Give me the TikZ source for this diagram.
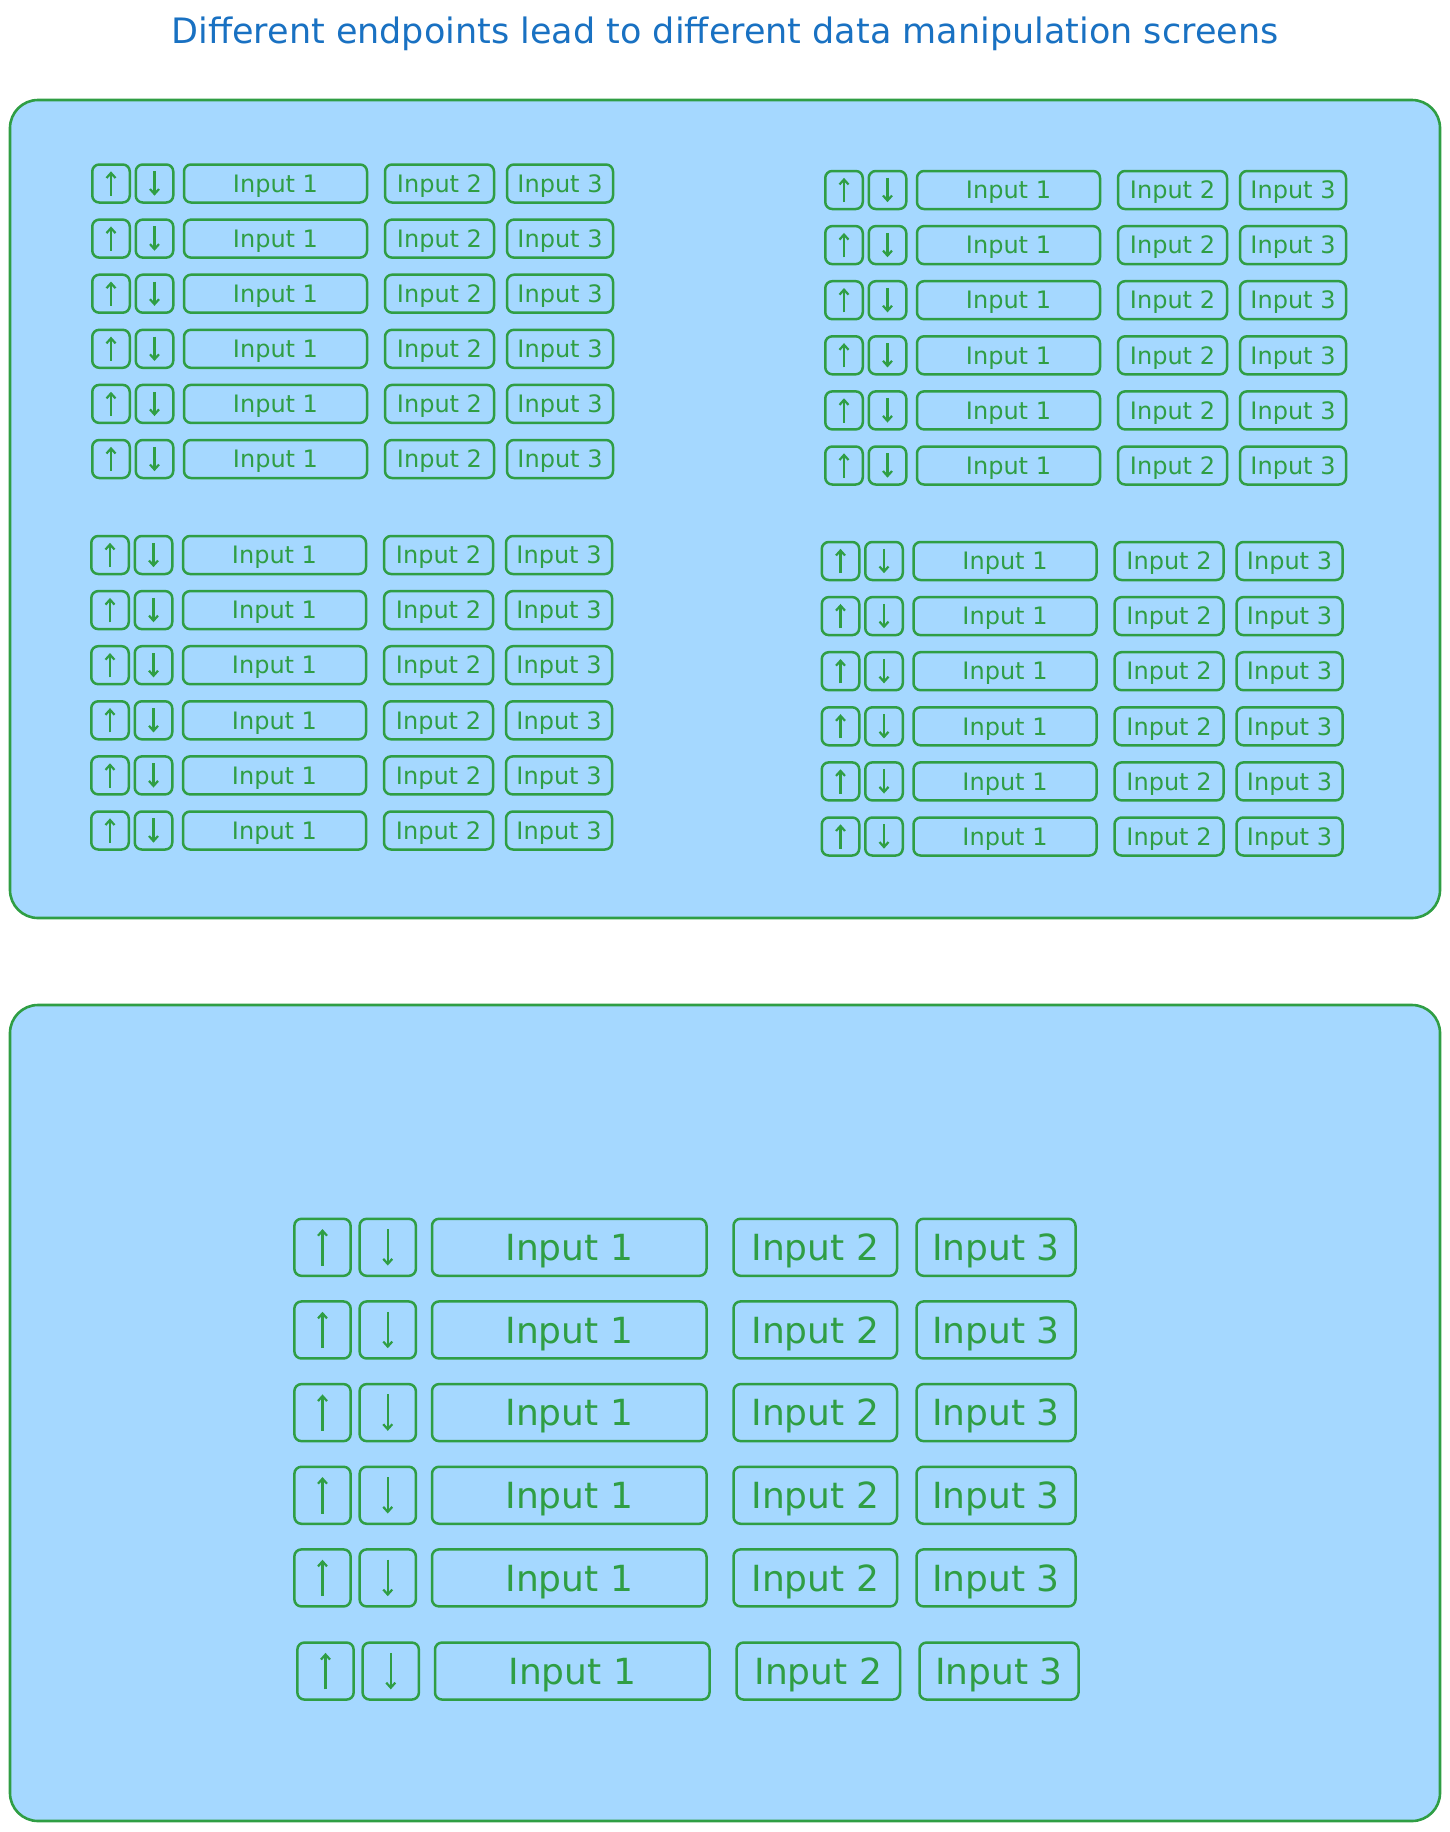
\documentclass[tikz,border=0pt]{standalone}
\usepackage{fontspec}
\newfontfamily\handfont{DejaVu Sans}
\usetikzlibrary{arrows.meta,calc}
\definecolor{C0}{RGB}{47,158,68}
\definecolor{C1}{RGB}{165,216,255}
\definecolor{C2}{RGB}{25,113,194}

\tikzset{
  panel/.style={draw=C0, fill=C1, line width=2.6pt, rounded corners=28pt},
  key/.style={draw=C0, line width=2.5pt, rounded corners=7pt, minimum height=38pt,
    inner sep=0pt, text=C0, font=\handfont\fontsize{24}{27}\selectfont,
    text height=17.5pt, text depth=0pt},
  updown/.style={key, minimum width=37.5pt},
  field1/.style={key, minimum width=183pt},
  field2/.style={key, minimum width=109pt},
  field3/.style={key, minimum width=106pt},
  tip/.style={draw=C0, line width=2.2pt, -{Straight Barb[length=5pt,width=9pt]}},
}

\begin{document}
\begin{tikzpicture}[x=1pt,y=1pt]
  \useasboundingbox (0,0) rectangle (1449,-1832);

  % Title.
  \node[anchor=base, text=C2, font=\handfont\fontsize{35}{40}\selectfont] (title) at (725,-43)
    {Different endpoints lead to different data manipulation screens};

  % The two screens.
  \draw[panel] (10,-100) rectangle (1440,-918);
  \draw[panel] (10,-1005) rectangle (1440,-1821);

  % Rows: up, down, three inputs.
  \foreach \g/\gx/\gy/\gs/\ex/\ey in {a/92/183.5/1/0/0, b/825/190/1/0/0,
      c/91/555/1/0/0, d/821.5/561/1/0/0, e/294/1247.3/1.5/2/7} {
    \begin{scope}[shift={(\gx,-\gy)}, scale=\gs, transform shape]
      \foreach \r in {1,...,6} {
        \pgfmathsetmacro{\rx}{(\r==6)*\ex}
        \pgfmathsetmacro{\ry}{(\r-1)*55.1+(\r==6)*\ey}
        \node[updown] (up-\g-\r) at (19+\rx,-\ry) {};
        \node[updown] (dn-\g-\r) at (62.5+\rx,-\ry) {};
        \node[field1] (in1-\g-\r) at (183.5+\rx,-\ry) {Input 1};
        \node[field2] (in2-\g-\r) at (347.5+\rx,-\ry) {Input 2};
        \node[field3] (in3-\g-\r) at (468+\rx,-\ry) {Input 3};
        \draw[tip] ($(up-\g-\r.south)!0.2!(up-\g-\r.north)$) -- ($(up-\g-\r.south)!0.8!(up-\g-\r.north)$);
        \draw[tip] ($(dn-\g-\r.north)!0.2!(dn-\g-\r.south)$) -- ($(dn-\g-\r.north)!0.8!(dn-\g-\r.south)$);
      }
    \end{scope}
  }

\end{tikzpicture}
\end{document}
